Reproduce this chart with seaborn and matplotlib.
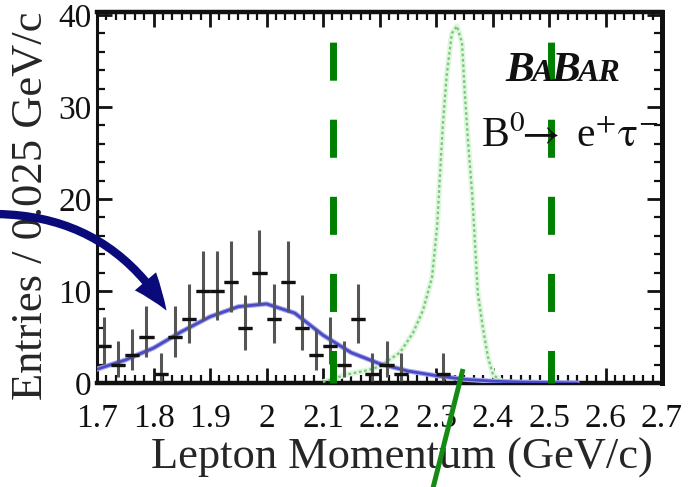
import numpy as np
import pandas as pd
import matplotlib
matplotlib.use("Agg")
import matplotlib.pyplot as plt
import seaborn as sns
from matplotlib.patches import FancyArrowPatch
from matplotlib.lines import Line2D
from matplotlib.ticker import MultipleLocator

# ---------------- data ----------------
bin_centers = [1.7125, 1.7375, 1.7625, 1.7875, 1.8125, 1.8375, 1.8625, 1.8875,
               1.9125, 1.9375, 1.9625, 1.9875, 2.0125, 2.0375, 2.0625, 2.0875,
               2.1125, 2.1375, 2.1625, 2.1875, 2.2125, 2.2375, 2.3125]
entries = [4, 2, 3, 5, 1, 5, 7, 10, 10, 11, 6, 12, 7, 11, 6, 3, 4, 2, 7, 1, 2, 1, 1]
err_low = [1.9, 1.3, 1.6, 2.2, 0.8, 2.2, 2.6, 3.1, 3.1, 3.3, 2.4, 3.4, 2.6, 3.3, 2.4,
           1.6, 1.9, 1.3, 2.6, 0.8, 1.3, 0.8, 0.8]
err_high = [3.2, 2.6, 2.9, 3.4, 2.3, 3.4, 3.8, 4.3, 4.3, 4.4, 3.6, 4.6, 3.8, 4.4, 3.6,
            2.9, 3.2, 2.6, 3.8, 2.3, 2.6, 2.3, 2.3]
half_bin = 0.0125

fit_x = [1.70, 1.75, 1.80, 1.85, 1.90, 1.95, 2.00, 2.05, 2.10, 2.15, 2.20, 2.25,
         2.30, 2.35, 2.40, 2.45, 2.50, 2.55]
fit_y = [1.5, 2.5, 3.8, 5.6, 7.2, 8.3, 8.6, 7.6, 5.2, 3.3, 2.1, 1.3,
         0.8, 0.4, 0.2, 0.1, 0.05, 0.0]

sig_x = [2.10, 2.14, 2.18, 2.20, 2.236, 2.259, 2.277, 2.293, 2.302, 2.307, 2.312,
         2.319, 2.328, 2.337, 2.346, 2.351, 2.357, 2.364, 2.369, 2.374, 2.383,
         2.392, 2.401, 2.42]
sig_y = [0.1, 0.9, 1.4, 1.8, 3.3, 5.4, 7.9, 11.5, 17.0, 22.6, 28.0,
         33.5, 38.0, 38.8, 37.0, 31.5, 26.0, 20.6, 15.2, 9.8, 6.0,
         2.8, 0.9, 0.0]

cut_values = [2.118, 2.503]

x_ticks = [1.7, 1.8, 1.9, 2.0, 2.1, 2.2, 2.3, 2.4, 2.5, 2.6, 2.7]
x_ticklabels = ["1.7", "1.8", "1.9", "2", "2.1", "2.2", "2.3", "2.4", "2.5", "2.6", "2.7"]
y_ticks = [0, 10, 20, 30, 40]

# ---------------- style ----------------
sns.set_style("ticks")
plt.rcParams["font.family"] = ["Liberation Serif", "DejaVu Serif"]
plt.rcParams["mathtext.fontset"] = "stix"

W, H = 689, 487
fig = plt.figure(figsize=(W / 100, H / 100), dpi=100)
ax = fig.add_axes([97 / W, 1 - 383 / H, 565 / W, 371 / H])

# signal shape (green dotted)
sig_df = pd.DataFrame({"p": sig_x, "n": sig_y})
sns.lineplot(data=sig_df, x="p", y="n", ax=ax, color="#dff6df", lw=4.0, zorder=2)
sns.lineplot(data=sig_df, x="p", y="n", ax=ax, color="#78c878", lw=1.6,
             linestyle=(0, (1.2, 1.2)), zorder=3)

# background fit (blue)
fit_df = pd.DataFrame({"p": fit_x, "n": fit_y})
sns.lineplot(data=fit_df, x="p", y="n", ax=ax, color="#a8a8ee", lw=3.6, zorder=3)
sns.lineplot(data=fit_df, x="p", y="n", ax=ax, color="#4a4ac4", lw=2.0, zorder=4)

# data points with asymmetric errors
ax.errorbar(bin_centers, entries, yerr=[err_low, err_high], xerr=half_bin,
            fmt="none", ecolor="#555555", elinewidth=2.2, capsize=0, zorder=5)
ax.errorbar(bin_centers, entries, xerr=half_bin, fmt="none", ecolor="#111111",
            elinewidth=2.4, capsize=0, zorder=6)

# cut lines (thick green dashed, drawn from top down)
for c in cut_values:
    ax.plot([c, c], [40.33, 0], color="#008000", lw=5.0,
            linestyle=(33.8 / 5.0, (27.4 / 5.0, 28.1 / 5.0)), solid_capstyle="butt",
            dash_capstyle="butt", zorder=7, clip_on=False)

ax.set_xlim(1.7, 2.7)
ax.set_ylim(0, 40.33)
ax.set_xticks(x_ticks)
ax.set_xticklabels(x_ticklabels)
ax.set_yticks(y_ticks)
ax.xaxis.set_minor_locator(MultipleLocator(0.1 / 6))
ax.yaxis.set_minor_locator(MultipleLocator(2))
ax.tick_params(which="both", direction="in", top=True, right=True, colors="#111111")
ax.tick_params(which="major", length=11, width=2.0)
ax.tick_params(which="minor", length=6, width=1.6)
ax.tick_params(axis="x", which="major", labelsize=24, pad=15)
ax.tick_params(axis="y", which="major", labelsize=24, pad=4)
for side, lw in [("left", 2.2), ("bottom", 3.2), ("top", 3.2), ("right", 3.6)]:
    ax.spines[side].set_linewidth(lw)
    ax.spines[side].set_color("#111111")

ax.set_xlabel("Lepton Momentum (GeV/c)", fontsize=32)
ax.set_ylabel("Entries / 0.025 GeV/c", fontsize=32)
ax.xaxis.set_label_coords((402 - 97) / 565, (383 - 438) / 371)
ax.yaxis.set_label_coords((51 - 97) / 565, (383 - 206) / 371)

# BABAR logo text
fig.canvas.draw()
r = fig.canvas.get_renderer()
x_px = 505
base_y = 1 - 81 / H
for piece, size in [("B", 31), ("A", 23), ("B", 31), ("AR", 23)]:
    t = fig.text(x_px / W, base_y, piece, fontsize=size, fontweight="bold",
                 fontstyle="italic", va="baseline", ha="left", color="#111111")
    bb = t.get_window_extent(r)
    x_px += bb.width - 2

fig.text(481 / W, 1 - 147 / H, r"B$^{0}\!\!\rightarrow$ e$^{+}\mathrm{\tau}^{-}$",
         fontsize=30, va="baseline", ha="left", color="#111111")

# annotation arrow (navy, curved) and green slanted line
arrow = FancyArrowPatch((-5 / W, 1 - 214 / H), (168 / W, 1 - 313 / H),
                        transform=fig.transFigure, connectionstyle="arc3,rad=-0.28",
                        arrowstyle="simple,head_length=26,head_width=20,tail_width=6",
                        color="#0a0a7a", lw=0, zorder=10)
fig.patches.append(arrow)

fig.lines.append(Line2D([463 / W, 432 / W], [1 - 369 / H, 1 - 492 / H],
                        transform=fig.transFigure, color="#148c14", lw=3.6,
                        solid_capstyle="butt", zorder=10))

fig.savefig("out.png", dpi=100)
